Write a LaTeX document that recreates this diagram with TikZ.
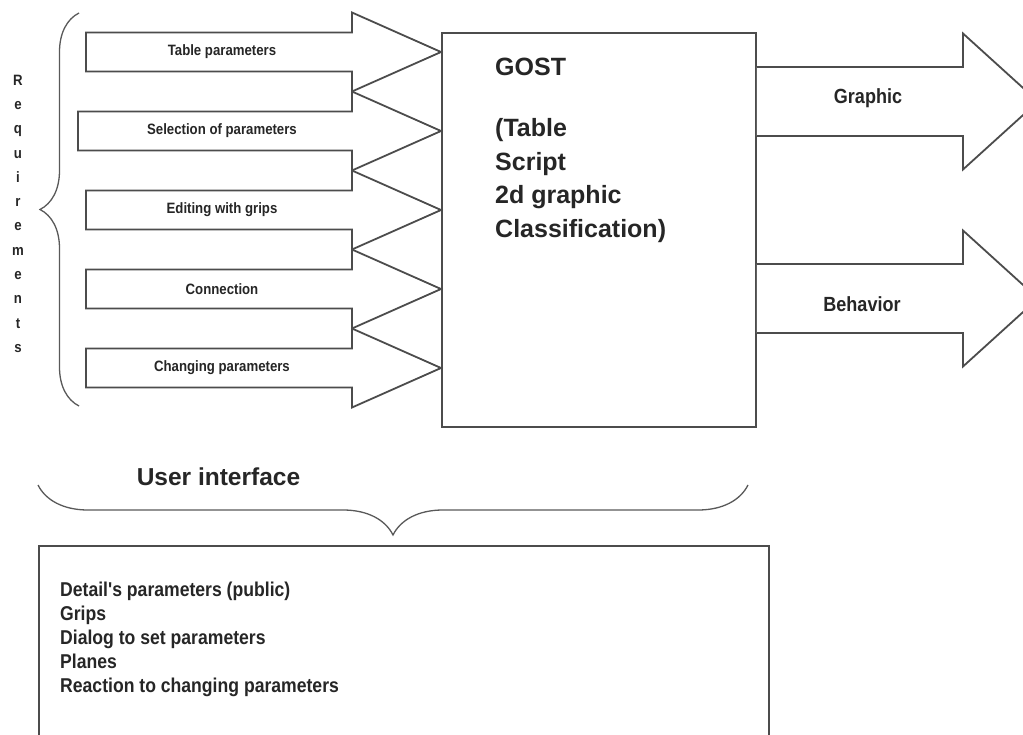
\documentclass[tikz,border=0pt]{standalone}
\usepackage{fontspec}
\setmainfont{Liberation Sans}
\newfontfamily\narrowsans{Liberation Sans}[FakeStretch=0.88]
\usetikzlibrary{decorations.pathreplacing}

\tikzset{
  outline/.style={draw=black!70, line width=1.8pt},
  blockarrow/.style={outline, fill=white},
  bracestyle/.style={draw=black!65, line width=1.3pt, decorate},
  smalllabel/.style={font=\narrowsans\bfseries\fontsize{15}{18}\selectfont, text=black!85},
  outlabel/.style={font=\narrowsans\bfseries\fontsize{20.5}{24}\selectfont, text=black!85},
  bigtext/.style={font=\bfseries\fontsize{25}{33.5}\selectfont, text=black!85, inner sep=0pt},
  listtext/.style={font=\narrowsans\bfseries\fontsize{20}{24}\selectfont, text=black!85, inner sep=0pt}
}

\begin{document}
\begin{tikzpicture}[x=1pt,y=-1pt]
  \useasboundingbox (0,0) rectangle (1023,735);
  \clip (0,0) rectangle (1023,735);

  % central block
  \node[outline, fill=white, anchor=north west, inner sep=0pt,
        minimum width=314pt, minimum height=394pt] (gost) at (441,32) {};
  \node[bigtext, anchor=north west, align=left] (gosttext) at (495,58)
    {GOST\\[27.5pt](Table\\Script\\2d graphic\\Classification)};

  % input arrows
  \foreach \c/\tail/\lab [count=\i] in {52/86/Table parameters, 131/78/Selection of parameters,
      210/86/Editing with grips, 289/86/Connection, 368/86/Changing parameters}{
    \draw[blockarrow] (\tail,\c-19.5) -- (352,\c-19.5) -- (352,\c-39.5) -- (gost.west |- 0,\c)
      -- (352,\c+39.5) -- (352,\c+19.5) -- (\tail,\c+19.5) -- cycle;
    \node[smalllabel] (in\i) at (222,\c) {\lab};
  }

  % output arrows
  \foreach \c/\ly/\lx/\lab [count=\i] in {101.5/98/868/Graphic, 298.5/304/862/Behavior}{
    \draw[blockarrow] (gost.east |- 0,\c-34.5) -- (963,\c-34.5) -- (963,\c-68) -- (1038,\c)
      -- (963,\c+68) -- (963,\c+34.5) -- (gost.east |- 0,\c+34.5);
    \node[outlabel] (out\i) at (\lx,\ly) {\lab};
  }

  % requirements
  \node[smalllabel, align=center, inner sep=0pt, anchor=north,
        font=\narrowsans\bfseries\fontsize{15}{24.3}\selectfont] (req) at (18,74.6)
    {R\\e\\q\\u\\i\\r\\e\\m\\e\\n\\t\\s};
  \coordinate (reqtop) at (79,13);
  \coordinate (reqbot) at (79,406);
  \draw[bracestyle, decoration={brace, amplitude=39pt}] (reqbot) -- (reqtop);

  % user interface
  \node[bigtext, font=\bfseries\fontsize{24.5}{30}\selectfont] (uititle) at (218.5,477) {User interface};
  \coordinate (uileft) at (38,485);
  \coordinate (uiright) at (748,485);
  \draw[bracestyle, decoration={brace, amplitude=50pt}] (uiright) -- (uileft);

  \node[outline, anchor=north west, inner sep=0pt,
        minimum width=730pt, minimum height=230pt] (ui) at (38,545) {};
  \node[listtext, anchor=north west, align=left] (uilist) at (60,582)
    {Detail's parameters (public)\\Grips\\Dialog to set parameters\\Planes\\Reaction to changing parameters};
\end{tikzpicture}
\end{document}
